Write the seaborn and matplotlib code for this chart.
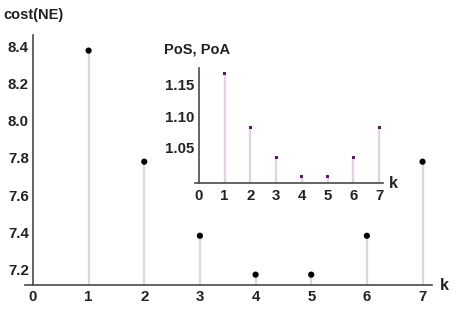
import matplotlib
matplotlib.use("Agg")
import matplotlib.pyplot as plt
import seaborn as sns
import pandas as pd
from matplotlib.ticker import MultipleLocator, FixedLocator

k = [1, 2, 3, 4, 5, 6, 7]
cost_ne = [8.38, 7.78, 7.38, 7.17, 7.17, 7.38, 7.78]
pos_poa = [1.168, 1.082, 1.034, 1.004, 1.004, 1.034, 1.082]
main_xticks = [0, 1, 2, 3, 4, 5, 6, 7]
main_yticks = [7.2, 7.4, 7.6, 7.8, 8.0, 8.2, 8.4]
inset_yticks = [1.05, 1.10, 1.15]

sns.set_theme(style="white")
plt.rcParams['font.family'] = ['Liberation Sans', 'DejaVu Sans']
plt.rcParams['font.weight'] = 'bold'

df = pd.DataFrame({"k": k, "cost": cost_ne, "ratio": pos_poa})
txt = "#222222"
axc = "#4a4a4a"
LS = 10.8

fig = plt.figure(figsize=(4.57, 3.17), dpi=100)
ax = fig.add_axes([0.0538, 0.1009, 0.8915, 0.7886])
ymin, ymax = 7.114, 8.464
ax.set_xlim(-0.15, 7.17)
ax.set_ylim(ymin, ymax)
ax.vlines(df["k"], ymin, df["cost"], color="#d9d9d9", lw=1.6, zorder=1)
sns.scatterplot(data=df, x="k", y="cost", ax=ax, color="black", s=20,
                edgecolor="none", zorder=3)


def style_axes(a, xmaj, ymaj, xminor, yminor, xpad, ypad):
    for s in ["top", "right"]:
        a.spines[s].set_visible(False)
    a.spines["left"].set_position(("data", 0))
    for s in ["left", "bottom"]:
        a.spines[s].set_color(axc)
        a.spines[s].set_linewidth(1.2)
    a.xaxis.set_major_locator(FixedLocator(xmaj))
    a.yaxis.set_major_locator(FixedLocator(ymaj))
    a.xaxis.set_minor_locator(MultipleLocator(xminor))
    a.yaxis.set_minor_locator(MultipleLocator(yminor))
    a.tick_params(which="major", direction="in", length=4, width=0.9,
                  color=axc, labelsize=LS, labelcolor=txt)
    a.tick_params(which="minor", direction="in", length=2, width=0.7, color=axc)
    a.tick_params(axis="x", which="major", pad=xpad)
    a.tick_params(axis="y", which="major", pad=ypad)
    a.set_xlabel("")
    a.set_ylabel("")
    for lab in a.get_xticklabels() + a.get_yticklabels():
        lab.set_fontweight("bold")


style_axes(ax, main_xticks, main_yticks, 0.2, 0.05, 3.5, 3)
ax.set_yticklabels([f"{v:.1f}" for v in main_yticks])
fig.text(3 / 457, 1 - 15 / 317, "cost(NE)", fontsize=10.5, fontweight="bold",
         color=txt, ha="left", va="center")
fig.text(440 / 457, 1 - 285 / 317, "k", fontsize=11.5, fontweight="bold",
         color=txt, ha="left", va="center")

# inset
ia = fig.add_axes([0.4267, 0.4227, 0.4114, 0.3628])
ia.set_facecolor("white")
iymin, iymax = 0.994, 1.177
ia.set_xlim(-0.15, 7.15)
ia.set_ylim(iymin, iymax)
ia.vlines(df["k"], iymin, df["ratio"], color="#e3d2e6", lw=1.7, zorder=1)
sns.scatterplot(data=df, x="k", y="ratio", ax=ia, color="#5b1a66", s=4,
                marker="s", edgecolor="none", zorder=3)
style_axes(ia, main_xticks, inset_yticks, 0.2, 0.01, 4.5, 3)
ia.set_yticklabels([f"{v:.2f}" for v in inset_yticks])
fig.text(164 / 457, 1 - 49 / 317, "PoS, PoA", fontsize=10.5, fontweight="bold",
         color=txt, ha="left", va="center")
fig.text(389 / 457, 1 - 183 / 317, "k", fontsize=11.5, fontweight="bold",
         color=txt, ha="left", va="center")

fig.savefig("out.png", dpi=100)
